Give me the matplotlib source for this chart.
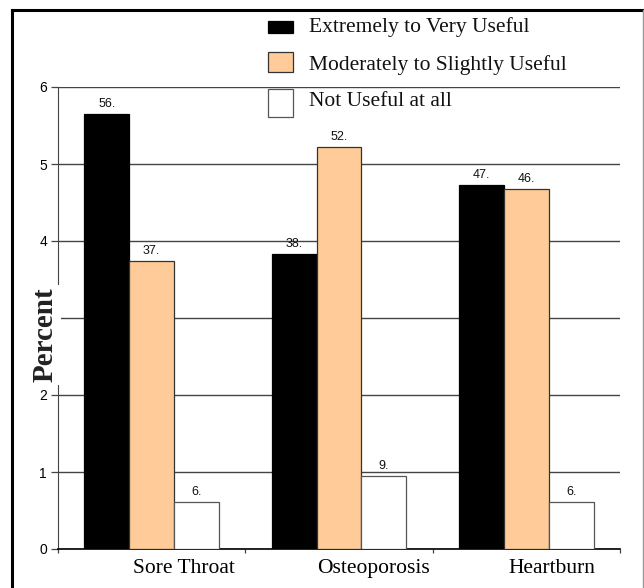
import numpy as np
import matplotlib
matplotlib.use("Agg")
import matplotlib.pyplot as plt
from matplotlib.patches import Rectangle
from matplotlib.lines import Line2D
from matplotlib.transforms import ScaledTranslation

# 数据
categories = ["Sore Throat", "Osteoporosis", "Heartburn"]
series_names = ["Extremely to Very Useful", "Moderately to Slightly Useful", "Not Useful at all"]
very_useful = [5.65, 3.835, 4.73]
slightly_useful = [3.74, 5.225, 4.67]
not_useful = [0.613, 0.952, 0.613]
very_labels = ["56.", "38.", "47."]
slightly_labels = ["37.", "52.", "46."]
not_labels = ["6.", "9.", "6."]
y_ticks = [0, 1, 2, 3, 4, 5, 6]
y_tick_labels = ["0", "1", "2", "", "4", "5", "6"]  # 3 被 Percent 遮住

colors = ["#000000", "#FFCC99", "#FFFFFF"]
edges = ["#000000", "#333333", "#555555"]

W, H = 644, 588
fig = plt.figure(figsize=(W / 100, H / 100), dpi=100)
ax = fig.add_axes([58 / W, 1 - 549 / H, (620 - 58) / W, (549 - 87) / H])

x = np.arange(len(categories))
width = 0.24
all_vals = [very_useful, slightly_useful, not_useful]
all_labels = [very_labels, slightly_labels, not_labels]
for i, (vals, labs) in enumerate(zip(all_vals, all_labels)):
    bars = ax.bar(x + (i - 1) * width, vals, width, color=colors[i],
                  edgecolor=edges[i], linewidth=0.9, zorder=3)
    ax.bar_label(bars, labels=labs, padding=3, fontsize=9,
                 family="Liberation Sans", color="#111111")

ax.set_xlim(-0.5, len(categories) - 0.5)
ax.set_ylim(0, 6)
ax.set_yticks(y_ticks)
ax.set_yticklabels(y_tick_labels, family="Liberation Sans", fontsize=10)
ax.yaxis.grid(True, color="#444444", linewidth=1.0, zorder=0)
ax.set_axisbelow(True)
ax.tick_params(axis="y", length=5, width=0.9, pad=3, color="#444444")

# 类别标签，略微右移
ax.set_xticks(x)
ax.set_xticklabels(categories, family="Liberation Serif", fontsize=15.5)
ax.tick_params(axis="x", length=0, pad=7)
shifts = [32, 35, 26]
for lab, dx in zip(ax.get_xticklabels(), shifts):
    lab.set_transform(lab.get_transform() + ScaledTranslation(dx / 100, 0, fig.dpi_scale_trans))
ax.set_xticks(np.arange(-0.5, len(categories)), minor=True)
ax.tick_params(axis="x", which="minor", length=3, width=0.9, color="#444444")

for s in ["top", "right"]:
    ax.spines[s].set_visible(False)
ax.spines["left"].set_color("#444444")
ax.spines["bottom"].set_color("#000000")
ax.spines["bottom"].set_linewidth(1.2)

# Percent 标签（白底遮住部分坐标轴）
fig.text(45 / W, 1 - 335 / H, "Percent", rotation=90, ha="center", va="center",
         family="Liberation Serif", fontweight="bold", fontsize=21, color="#222222",
         bbox=dict(facecolor="white", edgecolor="none", pad=2), zorder=5)

# 图例（手动绘制）
sq_tops = [21, 52, 89]
sq_heights = [12, 20, 28]
text_y = [27, 65, 101]
for c, e, name, top, h, ty in zip(colors, edges, series_names, sq_tops, sq_heights, text_y):
    fig.patches.append(Rectangle((268 / W, 1 - (top + h) / H), 25 / W, h / H,
                                 transform=fig.transFigure, facecolor=c,
                                 edgecolor=e, linewidth=0.9, zorder=6))
    fig.text(309 / W, 1 - ty / H, name, ha="left", va="center",
             family="Liberation Serif", fontsize=15.5, color="#111111", zorder=6)

# 外框
fig.add_artist(Line2D([12 / W, 643 / W], [1 - 10 / H, 1 - 10 / H], color="black", linewidth=2.2))
fig.add_artist(Line2D([12 / W, 12 / W], [0, 1 - 10 / H], color="black", linewidth=2.2))
fig.add_artist(Line2D([643 / W, 643 / W], [0, 1 - 10 / H], color="#999999", linewidth=1.0))

fig.savefig("out.png", dpi=100)
